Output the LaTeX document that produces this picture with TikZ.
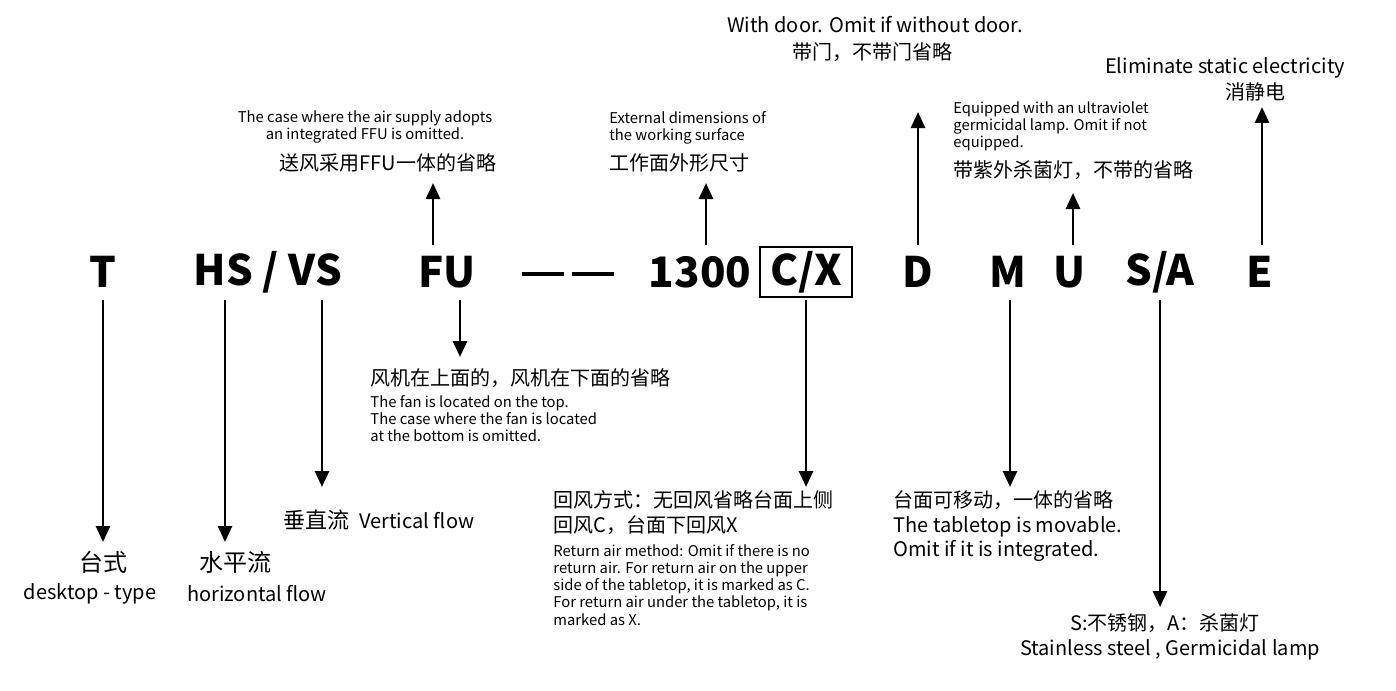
\documentclass[tikz,border=0pt]{standalone}
\usepackage{fontspec}
\setmainfont{Noto Sans CJK SC}
\usetikzlibrary{positioning, arrows.meta}

\begin{document}
\begin{tikzpicture}[
	x=0.5pt, y=-0.5pt,
	code/.style={font=\fontsize{21}{24}\selectfont\bfseries, inner sep=1pt},
	cn/.style={font=\fontsize{10}{12}\selectfont, inner sep=0pt},
	en/.style={font=\fontsize{10}{12}\selectfont, inner sep=0pt},
	small/.style={font=\fontsize{7.4}{8.6}\selectfont, inner sep=0pt, align=left},
	arr/.style={-{Triangle[width=7pt, length=8pt]}, line width=1.4pt},
	>=Triangle
]
\useasboundingbox (0,0) rectangle (1396,690);

% codes
\node[code] (t) at (103,272) {T};
\node[code] (hsvs) at (268,272) {HS / VS};
\node[code] (fu) at (447,272) {FU};
\node[code] (dash) at (568,274) {\rule{21pt}{1.8pt}\hspace{4pt}\rule{21pt}{1.8pt}};
\node[code] (num) at (700,272) {1300};
\node[code, draw, line width=1pt, minimum width=46pt, inner sep=2pt] (cx) at (806,272) {C/X};
\node[code] (d) at (918,272) {D};
\node[code] (m) at (1008,272) {M};
\node[code] (u) at (1070,272) {U};
\node[code] (sa) at (1160,272) {S/A};
\node[code] (e) at (1260,272) {E};

% coordinates for arrow ends
\coordinate (t1) at (103,300); \coordinate (t2) at (103,542);
\coordinate (h1) at (225,300); \coordinate (h2) at (225,542);
\coordinate (v1) at (322,300); \coordinate (v2) at (322,487);
\coordinate (fu1) at (433,245); \coordinate (fu2) at (433,183);
\coordinate (fd1) at (460,300); \coordinate (fd2) at (460,357);
\coordinate (n1) at (706,245); \coordinate (n2) at (706,183);
\coordinate (cx1) at (806,300); \coordinate (cx2) at (806,487);
\coordinate (d1) at (918,245); \coordinate (d2) at (918,112);
\coordinate (m1) at (1010,300); \coordinate (m2) at (1010,487);
\coordinate (u1) at (1073,245); \coordinate (u2) at (1073,193);
\coordinate (s1) at (1160,300); \coordinate (s2) at (1160,607);
\coordinate (e1) at (1262,245); \coordinate (e2) at (1262,107);

\foreach \a/\b in {t1/t2, h1/h2, v1/v2, fu1/fu2, fd1/fd2, n1/n2, cx1/cx2, d1/d2, m1/m2, u1/u2, s1/s2, e1/e2}
	\draw[arr] (\a) -- (\b);

% T
\node[cn, font=\fontsize{12}{14}\selectfont] (tcn) at (103,562) {台式};
\node[en] (ten) at (90,594) {desktop - type};
% HS
\node[cn, font=\fontsize{12}{14}\selectfont] (hcn) at (235,562) {水平流};
\node[en] (hen) at (257,594) {horizontal flow};
% VS
\node[cn, anchor=west] (vcn) at (283,520) {{\fontsize{11}{13}\selectfont 垂直流}\enspace{}Vertical flow};
% FU up
\node[small, align=center] (fuen) at (365,127) {The case where the air supply adopts\\an integrated FFU is omitted.};
\node[cn] (fucn) at (388,163) {送风采用FFU一体的省略};
% FU down
\node[cn, anchor=west] (fdcn) at (370,378) {风机在上面的，风机在下面的省略};
\node[small, anchor=north west] (fden) at (370,395) {The fan is located on the top.\\The case where the fan is located\\ at the bottom is omitted.};
% 1300
\node[small, anchor=west] (nen) at (609,128) {External dimensions of\\the working surface};
\node[cn, anchor=west] (ncn) at (609,163) {工作面外形尺寸};
% C/X
\node[cn, anchor=west] (cxcn1) at (553,500) {回风方式：无回风省略台面上侧};
\node[cn, anchor=west] (cxcn2) at (553,525) {回风C，台面下回风X};
\node[small, anchor=north west] (cxen) at (553,544) {Return air method: Omit if there is no\\return air. For return air on the upper\\side of the tabletop, it is marked as C.\\For return air under the tabletop, it is\\marked as X.};
% D
\node[en] (den) at (875,25) {With door. Omit if without door.};
\node[cn] (dcn) at (872,52) {带门，不带门省略};
% M
\node[cn, anchor=west] (mcn) at (893,500) {台面可移动，一体的省略};
\node[en, anchor=north west, align=left] (men) at (893,516) {The tabletop is movable.\\Omit if it is integrated.};
% U
\node[small, anchor=north west] (uen) at (953,101) {Equipped with an ultraviolet\\germicidal lamp. Omit if not\\ equipped.};
\node[cn, anchor=west] (ucn) at (953,170) {带紫外杀菌灯，不带的省略};
% S/A
\node[cn] (scn) at (1165,623) {S:不锈钢，A：杀菌灯};
\node[en] (sen) at (1170,650) {Stainless steel , Germicidal lamp};
% E
\node[en] (een) at (1225,68) {Eliminate static electricity};
\node[cn] (ecn) at (1255,92) {消静电};
\end{tikzpicture}
\end{document}
